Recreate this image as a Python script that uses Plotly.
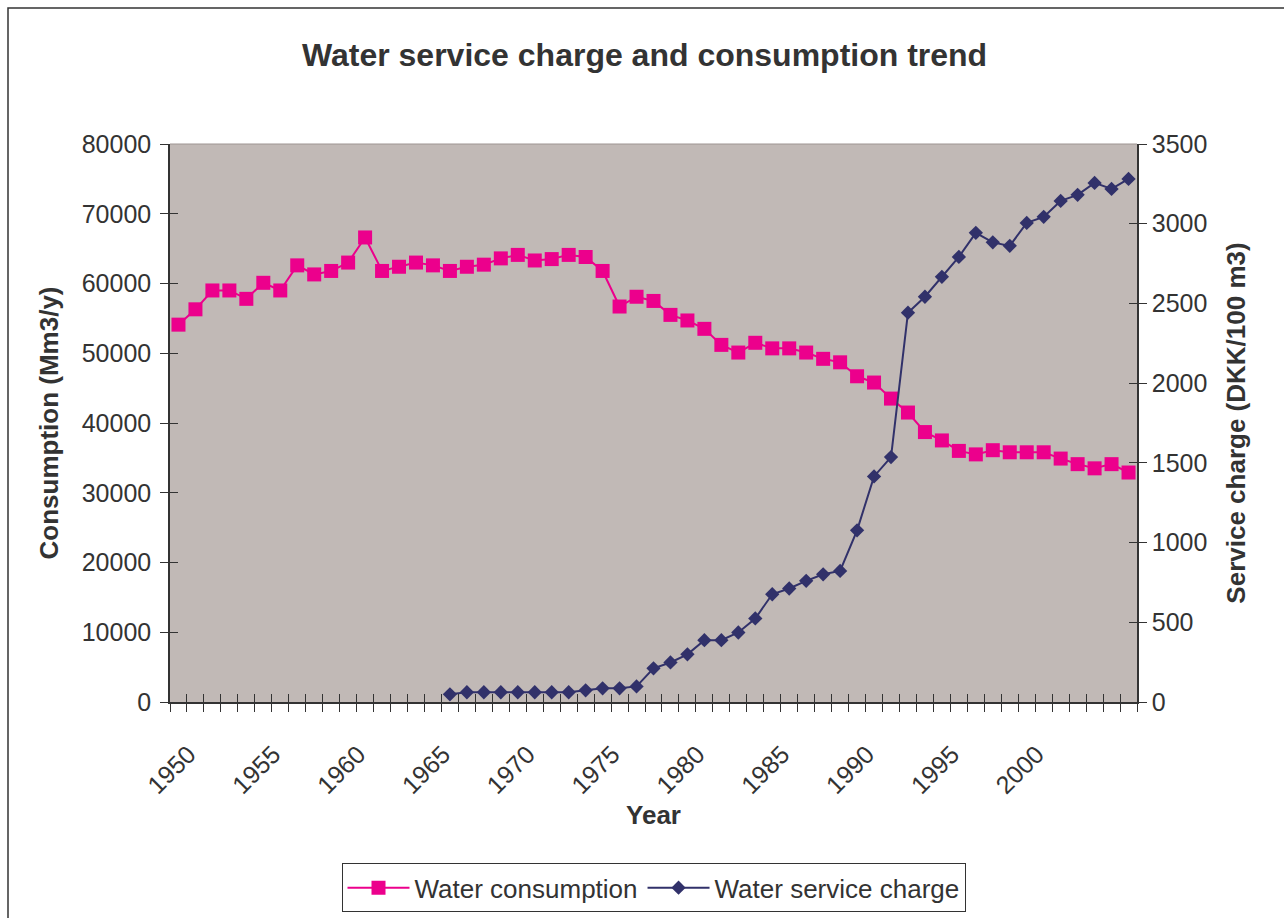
import plotly.graph_objects as go

# Years on the horizontal axis
years = list(range(1950, 2007))

# Water consumption, Mm3/y (left axis)
consumption = [
    54100, 56300, 59000, 59000, 57800, 60100, 59000, 62600, 61300, 61800,
    63000, 66600, 61800, 62400, 63000, 62600, 61800, 62400, 62700, 63600,
    64100, 63300, 63500, 64100, 63800, 61800, 56700, 58100, 57500, 55500,
    54700, 53500, 51200, 50100, 51500, 50700, 50700, 50100, 49200, 48700,
    46700, 45800, 43500, 41500, 38700, 37500, 36000, 35500, 36100, 35800,
    35800, 35800, 34900, 34100, 33500, 34100, 32900,
]

# Water service charge, DKK/100 m3 (right axis); recorded from 1966 on
charge_years = list(range(1966, 2007))
service_charge = [
    48, 61, 61, 61, 61, 61, 61, 61, 73, 86,
    86, 98, 211, 248, 299, 388, 388, 436, 524, 676,
    712, 760, 801, 822, 1077, 1415, 1536, 2442, 2542, 2667,
    2792, 2943, 2883, 2861, 3005, 3043, 3143, 3181, 3256, 3218,
    3281,
]

label_years = list(range(1950, 2001, 5))
boundaries = [y - 0.5 for y in range(1950, 2008)]

PINK = "#EC008C"
NAVY = "#31316A"
AXIS = "#333333"
FONT = "Liberation Sans, Arial, sans-serif"

xr = [years[0] - 0.5, years[-1] + 0.5]

fig = go.Figure()

fig.add_trace(go.Scatter(
    x=years, y=consumption, name="Water consumption",
    mode="lines+markers",
    line=dict(color=PINK, width=2),
    marker=dict(symbol="square", size=14, color=PINK),
    yaxis="y",
))
fig.add_trace(go.Scatter(
    x=charge_years, y=service_charge, name="Water service charge",
    mode="lines+markers",
    line=dict(color=NAVY, width=2),
    marker=dict(symbol="diamond", size=11, color=NAVY),
    yaxis="y2",
))
# invisible carriers for the inner halves of the crossing tick marks
fig.add_trace(go.Scatter(x=[years[0]], y=[0], xaxis="x3", yaxis="y3",
                         mode="markers", marker=dict(opacity=0),
                         showlegend=False, hoverinfo="skip"))
fig.add_trace(go.Scatter(x=[years[0]], y=[0], xaxis="x3", yaxis="y4",
                         mode="markers", marker=dict(opacity=0),
                         showlegend=False, hoverinfo="skip"))

tickfont = dict(family=FONT, size=25, color=AXIS)
titlefont = dict(family=FONT, size=26, color=AXIS)

fig.update_layout(
    width=1284, height=918,
    margin=dict(l=170, r=147, t=144, b=216, autoexpand=False),
    paper_bgcolor="white",
    plot_bgcolor="#C1B9B6",
    showlegend=True,
    title=dict(
        text="<b>Water service charge and consumption trend</b>",
        font=dict(family=FONT, size=32, color=AXIS),
        x=0.502, xanchor="center", y=0.94, yanchor="middle",
    ),
    xaxis=dict(
        range=xr, showgrid=False, zeroline=False,
        tickmode="array", tickvals=label_years,
        ticktext=[str(y) for y in label_years],
        tickangle=-45, ticks="", tickfont=tickfont,
        ticklabelstandoff=26, ticklabelshift=10,
        showline=True, linecolor=AXIS, linewidth=1.5,
        minor=dict(tickmode="array", tickvals=boundaries,
                   ticks="outside", ticklen=8, tickcolor=AXIS, tickwidth=1),
        title=dict(text="<b>Year</b>", font=titlefont, standoff=8),
    ),
    xaxis3=dict(
        overlaying="x", anchor="y", range=xr, showgrid=False, zeroline=False,
        tickmode="array", tickvals=boundaries, ticks="inside", ticklen=8,
        tickcolor=AXIS, tickwidth=1, showticklabels=False, showline=False,
    ),
    yaxis=dict(
        range=[0, 80000], dtick=10000, tick0=0, tickformat="d",
        showgrid=False, zeroline=False,
        ticks="outside", ticklen=8, tickcolor=AXIS, tickwidth=1,
        tickfont=tickfont, ticklabelstandoff=4,
        showline=True, linecolor=AXIS, linewidth=1.5,
        title=dict(text="<b>Consumption (Mm3/y)</b>", font=titlefont, standoff=16),
    ),
    yaxis3=dict(
        overlaying="y", anchor="x", side="left", range=[0, 80000], dtick=10000,
        showgrid=False, zeroline=False, ticks="inside", ticklen=8,
        tickcolor=AXIS, tickwidth=1, showticklabels=False, showline=False,
    ),
    yaxis2=dict(
        overlaying="y", side="right", anchor="x",
        range=[0, 3500], dtick=500, tick0=0, tickformat="d",
        showgrid=False, zeroline=False,
        ticks="outside", ticklen=8, tickcolor=AXIS, tickwidth=1,
        tickfont=tickfont, showline=True, linecolor=AXIS, linewidth=1.5,
        title=dict(text="<b>Service charge (DKK/100 m3)</b>", font=titlefont, standoff=20),
    ),
    yaxis4=dict(
        overlaying="y", anchor="x", side="right", range=[0, 3500], dtick=500,
        showgrid=False, zeroline=False, ticks="inside", ticklen=8,
        tickcolor=AXIS, tickwidth=1, showticklabels=False, showline=False,
    ),
    legend=dict(
        orientation="h", x=0.5, xanchor="center", y=-0.333, yanchor="middle",
        font=dict(family=FONT, size=26, color=AXIS),
        bordercolor=AXIS, borderwidth=1, bgcolor="white",
        itemwidth=62, tracegroupgap=0,
    ),
    shapes=[
        # outer chart frame
        dict(type="rect", xref="paper", yref="paper",
             x0=-162 / 967, x1=1.2, y0=-0.5, y1=1 + 136 / 558,
             line=dict(color=AXIS, width=1.5), fillcolor="rgba(0,0,0,0)",
             layer="below"),
        # thin top edge of the plot area
        dict(type="line", xref="paper", yref="paper",
             x0=0, x1=1, y0=1, y1=1,
             line=dict(color="#9E9592", width=1)),
    ],
)

fig.write_html("out.html")
